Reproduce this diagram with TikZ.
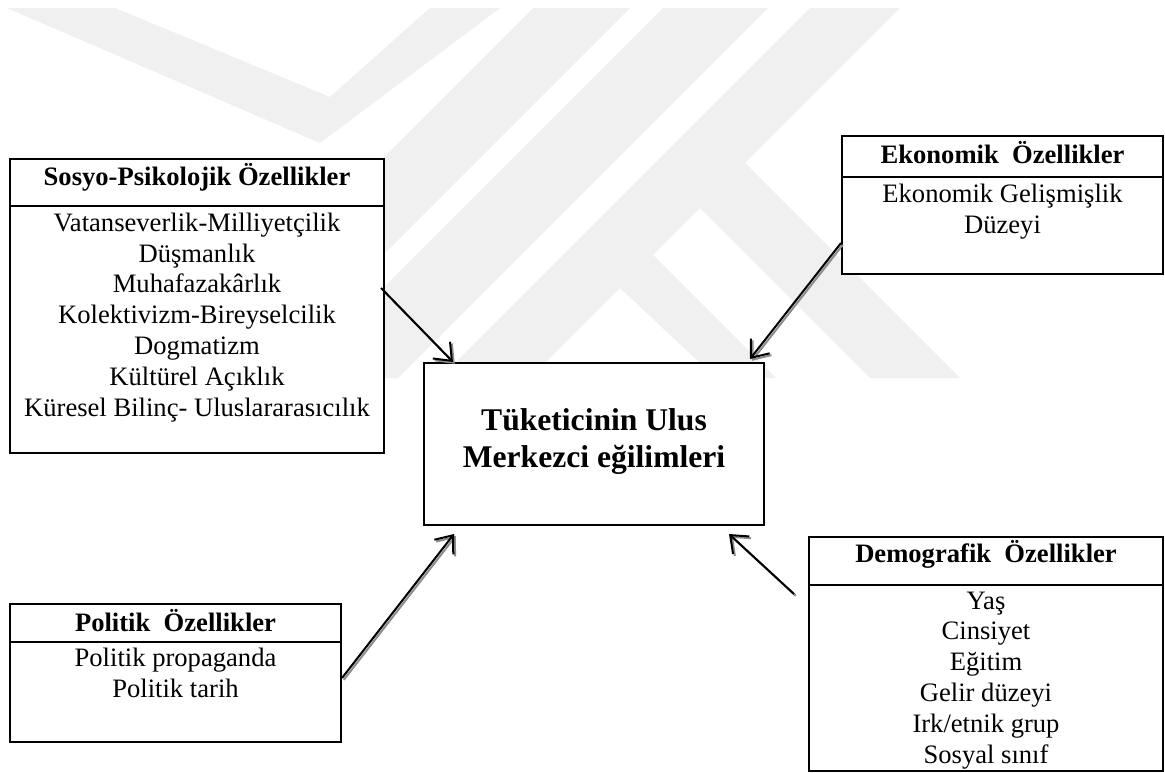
\documentclass[tikz,border=0pt]{standalone}
\usepackage{fontspec}
\setmainfont{Liberation Serif}
\usetikzlibrary{arrows.meta}
\begin{document}
\begin{tikzpicture}[x=1pt,y=-1pt,
  box/.style={draw, line width=2pt, fill=white, inner sep=0pt},
  divider/.style={line width=2pt},
  hdr/.style={font=\fontsize{26.6}{30.8}\selectfont\bfseries, anchor=base, inner sep=0pt},
  body/.style={font=\fontsize{26.6}{30.8}\selectfont, anchor=base, align=center, inner sep=0pt},
  ctext/.style={font=\fontsize{31.6}{37}\selectfont\bfseries, anchor=base, align=center, inner sep=0pt},
  conn/.style={line width=2pt, -{Straight Barb[length=15pt,width=24pt,line width=2pt]}},
  connshadow/.style={conn, draw=black!45, transform canvas={xshift=1.8pt,yshift=-1.8pt}},
  wm/.style={fill=black!6, draw=none}]
\useasboundingbox (0,0) rectangle (1165,772);
\fill[white] (0,0) rectangle (1165,772);
% watermark
\fill[wm] (7,8) -- (115,8) -- (330,97) -- (430,8) -- (500,8) -- (320,143) -- cycle;
\fill[wm] (533,8) -- (630,8) -- (260,378) -- (163,378) -- cycle;
\fill[wm] (663,8) -- (768,8) -- (398,378) -- (293,378) -- cycle;
\fill[wm] (810,8) -- (900,8) -- (530,378) -- (440,378) -- cycle;
\fill[wm] (745,163) -- (960,378) -- (870,378) -- (700,208) -- cycle;
\fill[wm] (653,255) -- (776,378) -- (716,378) -- (620,288) -- cycle;
% boxes
\node[box, minimum width=374pt, minimum height=294pt] (sosyo) at (197,306) {};
\draw[divider] (sosyo.west |- 0,206) -- (sosyo.east |- 0,206);
\node[hdr] (sosyoh) at (197,185) {Sosyo-Psikolojik Özellikler};
\node[body] (sosyob) at (197,416) {Vatanseverlik-Milliyetçilik\\Düşmanlık\\Muhafazakârlık\\Kolektivizm-Bireyselcilik\\Dogmatizm\\Kültürel Açıklık\\Küresel Bilinç- Uluslararasıcılık};

\node[box, minimum width=321pt, minimum height=138pt] (eko) at (1002.5,205) {};
\draw[divider] (eko.west |- 0,177) -- (eko.east |- 0,177);
\node[hdr] (ekoh) at (1002.5,163) {Ekonomik~ Özellikler};
\node[body] (ekob) at (1002.5,233) {Ekonomik Gelişmişlik\\Düzeyi};

\node[box, minimum width=340pt, minimum height=162pt] (cen) at (594,444) {};
\node[ctext] (cent) at (594,467) {Tüketicinin Ulus\\Merkezci eğilimleri};

\node[box, minimum width=331pt, minimum height=138pt] (pol) at (175.5,673) {};
\draw[divider] (pol.west |- 0,642) -- (pol.east |- 0,642);
\node[hdr] (polh) at (175.5,631) {Politik~ Özellikler};
\node[body] (polb) at (175.5,697) {Politik propaganda\\Politik tarih};

\node[box, minimum width=354pt, minimum height=234pt] (dem) at (986,654) {};
\draw[divider] (dem.west |- 0,585) -- (dem.east |- 0,585);
\node[hdr] (demh) at (986,562) {Demografik~ Özellikler};
\node[body] (demb) at (986,763) {Yaş\\Cinsiyet\\Eğitim\\Gelir düzeyi\\Irk/etnik grup\\Sosyal sınıf};

% connector ends
\coordinate (s1) at ([xshift=-4pt,yshift=18pt]sosyo.east);
\coordinate (s2) at ([xshift=30pt]cen.north west);
\coordinate (e1) at ([yshift=-38pt]eko.west);
\coordinate (e2) at ([xshift=-15pt,yshift=3pt]cen.north east);
\coordinate (p1) at ([yshift=-5pt]pol.east);
\coordinate (p2) at ([xshift=31pt,yshift=-8pt]cen.south west);
\coordinate (d1) at ([xshift=-14pt,yshift=60pt]dem.west);
\coordinate (d2) at ([xshift=-36pt,yshift=-8pt]cen.south east);

\foreach \a/\b in {s1/s2,e1/e2,p1/p2,d1/d2}{
  \draw[connshadow] (\a) -- (\b);
  \draw[conn] (\a) -- (\b);
}
\end{tikzpicture}
\end{document}
